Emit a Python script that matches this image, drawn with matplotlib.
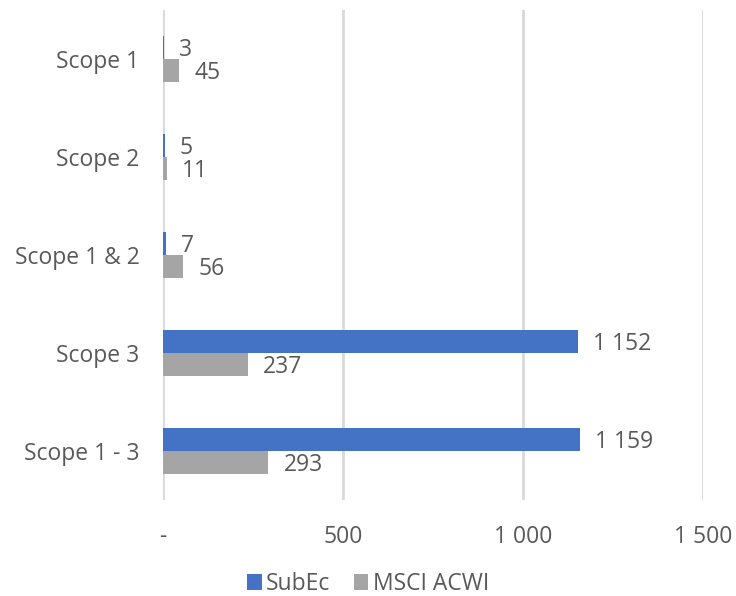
import matplotlib.pyplot as plt
import numpy as np

categories = ["Scope 1", "Scope 2", "Scope 1 & 2", "Scope 3", "Scope 1 - 3"]
subec = [3, 5, 7, 1152, 1159]
msci_acwi = [45, 11, 56, 237, 293]
xticks = [0, 500, 1000, 1500]
xtick_labels = ["-", "500", "1 000", "1 500"]

plt.rcParams['font.family'] = ['Open Sans', 'DejaVu Sans']
text_col = "#595959"
fs = 16.5

fig = plt.figure(figsize=(7.36, 5.96), dpi=100)
ax = fig.add_axes([0.2215, 0.161, 0.7335, 0.822])

y = np.arange(len(categories))
h = 0.235
b1 = ax.barh(y - h / 2, subec, height=h, color="#4472C4", label="SubEc", zorder=3)
b2 = ax.barh(y + h / 2, msci_acwi, height=h, color="#A5A5A5", label="MSCI ACWI", zorder=3)

def fmt(v):
    return f"{v:,}".replace(",", " ")

for bars, vals in ((b1, subec), (b2, msci_acwi)):
    for rect, v in zip(bars, vals):
        ax.annotate(fmt(v), (rect.get_width(), rect.get_y() + rect.get_height() / 2),
                    xytext=(15, -2), textcoords="offset pixels",
                    va="center", ha="left", fontsize=fs, color=text_col)

ax.set_xlim(0, 1500)
ax.set_ylim(len(categories) - 0.5, -0.5)
ax.set_yticks(y)
ax.set_yticklabels(categories)
ax.set_xticks(xticks)
ax.set_xticklabels(xtick_labels)
ax.tick_params(axis="both", length=0, labelsize=fs, labelcolor=text_col)
ax.tick_params(axis="y", pad=17)
ax.tick_params(axis="x", pad=18)
ax.grid(axis="x", color="#D9D9D9", linewidth=2, zorder=0)
for s in ax.spines.values():
    s.set_visible(False)

fig.legend(handles=[b1, b2], loc="center", bbox_to_anchor=(0.5, 0.02), ncol=2,
           frameon=False, fontsize=fs, labelcolor=text_col, handlelength=0.65,
           handleheight=0.65, handletextpad=0.2, columnspacing=1.0)

fig.savefig("out.png", dpi=100)
